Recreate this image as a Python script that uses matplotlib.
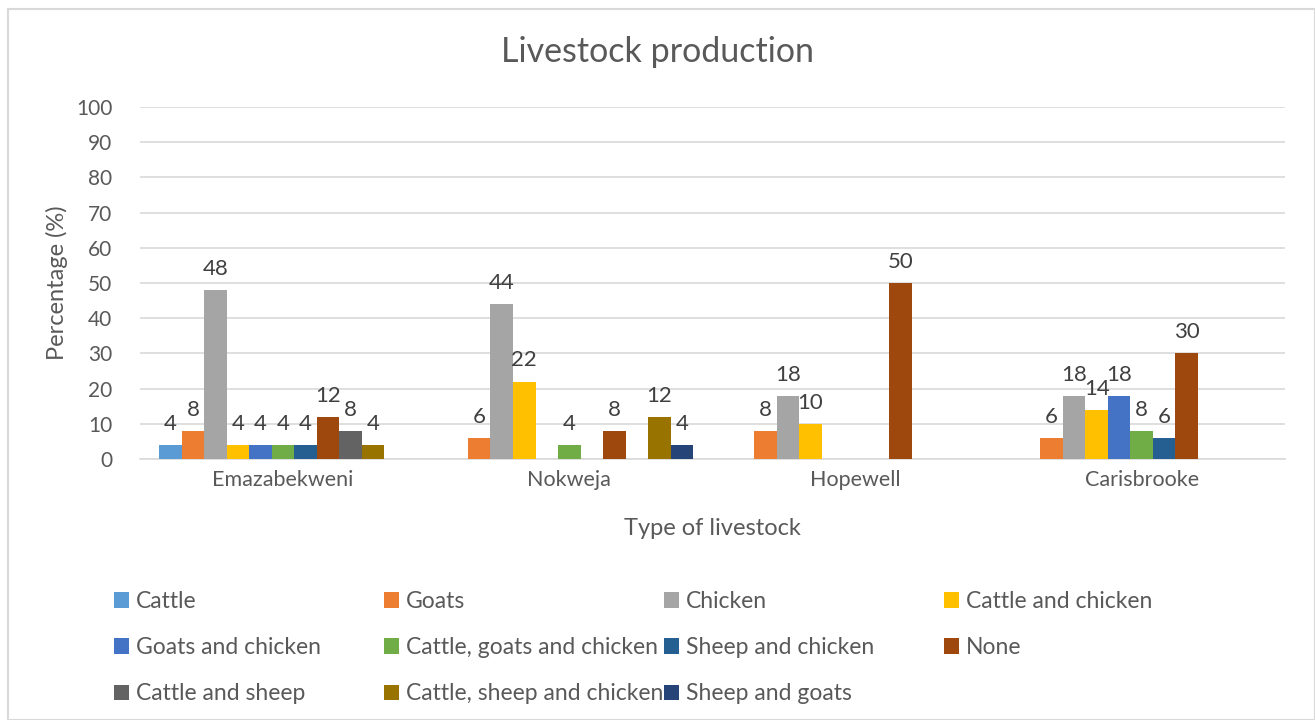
import numpy as np
import matplotlib.pyplot as plt
from matplotlib.patches import Rectangle

plt.rcParams['font.family'] = ['Lato', 'DejaVu Sans']

sites = ['Emazabekweni', 'Nokweja', 'Hopewell', 'Carisbrooke']

series = ['Cattle', 'Goats', 'Chicken', 'Cattle and chicken',
          'Goats and chicken', 'Cattle, goats and chicken', 'Sheep and chicken', 'None',
          'Cattle and sheep', 'Cattle, sheep and chicken', 'Sheep and goats']

cattle = [4, 0, 0, 0]
goats = [8, 6, 8, 6]
chicken = [48, 44, 18, 18]
cattle_chicken = [4, 22, 10, 14]
goats_chicken = [4, 0, 0, 18]
cattle_goats_chicken = [4, 4, 0, 8]
sheep_chicken = [4, 0, 0, 6]
none = [12, 8, 50, 30]
cattle_sheep = [8, 0, 0, 0]
cattle_sheep_chicken = [4, 12, 0, 0]
sheep_goats = [0, 4, 0, 0]

values = [cattle, goats, chicken, cattle_chicken, goats_chicken, cattle_goats_chicken,
          sheep_chicken, none, cattle_sheep, cattle_sheep_chicken, sheep_goats]

colors = ['#5B9BD5', '#ED7D31', '#A5A5A5', '#FFC000', '#4472C4', '#70AD47',
          '#255E91', '#9E480E', '#636363', '#997300', '#264478']

text_col = '#595959'
grid_col = '#D9D9D9'

fig = plt.figure(figsize=(13.15, 7.2), dpi=100)
fig.patches.append(Rectangle((0.006, 0.0), 0.994, 0.987, transform=fig.transFigure,
                             fill=False, edgecolor=grid_col, linewidth=1.5))
ax = fig.add_axes([0.1065, 0.3625, 0.8705, 0.4889])

x = np.arange(len(sites))
n = len(series)
w = 0.0787
for j, (name, vals, c) in enumerate(zip(series, values, colors)):
    bars = ax.bar(x + (j - (n - 1) / 2) * w, vals, w, color=c, label=name, zorder=3)
    ax.bar_label(bars, labels=[str(v) if v else '' for v in vals], padding=8,
                 fontsize=16, color='#404040')

ax.set_xlim(-0.5, 3.5)
ax.set_ylim(0, 100)
ax.set_yticks(range(0, 101, 10))
ax.set_xticks(x)
ax.set_xticklabels(sites)
ax.grid(axis='y', color=grid_col, linewidth=1.2, zorder=0)
for s in ['top', 'right', 'left']:
    ax.spines[s].set_visible(False)
ax.spines['bottom'].set_color(grid_col)
ax.spines['bottom'].set_linewidth(1.2)
ax.tick_params(axis='both', length=0, labelsize=15.5, colors=text_col, pad=8)
ax.tick_params(axis='y', labelsize=15, pad=20)

# chart title sits at the centre of the whole figure
fig.text(0.5, 0.928, 'Livestock production', fontsize=24.5, color=text_col,
         ha='center', va='center')
ax.set_ylabel('Percentage (%)', fontsize=17, color=text_col, labelpad=6)
ax.set_xlabel('Type of livestock', fontsize=17, color=text_col, labelpad=20)

# legend laid out row by row in four equal-width columns
handles, labels = ax.get_legend_handles_labels()
col_x = [0.080, 0.285, 0.498, 0.711]
for k in range(4):
    h = handles[k::4]
    l = labels[k::4]
    fig.legend(h, l, loc='upper left', bbox_to_anchor=(col_x[k], 0.192),
               frameon=False, fontsize=16.5, labelcolor=text_col, handlelength=0.65,
               handleheight=0.65, handletextpad=0.3, labelspacing=1.1,
               borderaxespad=0)

fig.savefig('out.png', dpi=100)
